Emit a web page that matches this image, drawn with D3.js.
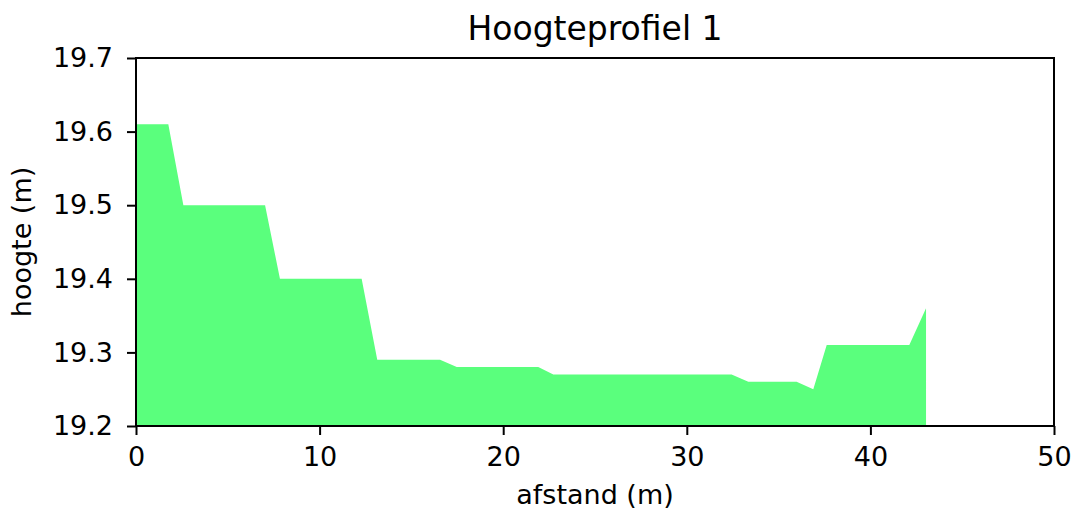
<!DOCTYPE html>
<html>
<head>
<meta charset="utf-8">
<script src="https://cdn.jsdelivr.net/npm/d3@7"></script>
<style>
  html, body { margin: 0; padding: 0; background: #fff; }
  svg { display: block; font-family: "DejaVu Sans", sans-serif; }
</style>
</head>
<body>
<svg id="chart" width="1072" height="515"></svg>
<script>
// Data: vertices of the height profile (distance in m, height in m)
const distance = [0, 1.76, 2.58, 7.03, 7.84, 12.29, 13.14, 16.56, 17.47, 21.91, 22.73, 32.44, 33.35, 35.98, 36.89, 37.62, 42.12, 43.03];
const height   = [19.61, 19.61, 19.50, 19.50, 19.40, 19.40, 19.29, 19.29, 19.28, 19.28, 19.27, 19.27, 19.26, 19.26, 19.25, 19.31, 19.31, 19.36];
const xTicks = [0, 10, 20, 30, 40, 50];
const yTicks = [19.2, 19.3, 19.4, 19.5, 19.6, 19.7];
const title = "Hoogteprofiel 1";
const xLabel = "afstand (m)";
const yLabel = "hoogte (m)";

const svg = d3.select("#chart");
const plotLeft = 136, plotRight = 1054, plotTop = 58, plotBottom = 426;

const x = d3.scaleLinear().domain([0, 50]).range([plotLeft, plotRight]);
const y = d3.scaleLinear().domain([19.2, 19.7]).range([plotBottom, plotTop]);

const pts = distance.map((d, i) => ({ d, h: height[i] }));

svg.append("path")
  .datum(pts)
  .attr("fill", "#5AFF7D")
  .attr("d", d3.area().x(p => x(p.d)).y0(y(19.2)).y1(p => y(p.h)));

// frame
svg.append("rect")
  .attr("x", plotLeft).attr("y", plotTop)
  .attr("width", plotRight - plotLeft).attr("height", plotBottom - plotTop)
  .attr("fill", "none").attr("stroke", "#000").attr("stroke-width", 2);

const xAxis = svg.append("g")
  .attr("transform", `translate(0,${plotBottom})`)
  .call(d3.axisBottom(x).tickValues(xTicks).tickFormat(d3.format("d")).tickSize(9).tickPadding(12));
const yAxis = svg.append("g")
  .attr("transform", `translate(${plotLeft},0)`)
  .call(d3.axisLeft(y).tickValues(yTicks).tickFormat(d3.format(".1f")).tickSize(9).tickPadding(14));

[xAxis, yAxis].forEach(g => {
  g.select(".domain").remove();
  g.selectAll(".tick line").attr("stroke", "#000").attr("stroke-width", 2);
  g.selectAll(".tick text").attr("fill", "#000").style("font-size", "27px").style("font-family", "DejaVu Sans");
});

svg.append("text")
  .attr("x", (plotLeft + plotRight) / 2).attr("y", 40)
  .attr("text-anchor", "middle")
  .style("font-size", "33px")
  .attr("fill", "#000")
  .text(title);

svg.append("text")
  .attr("x", (plotLeft + plotRight) / 2).attr("y", 504)
  .attr("text-anchor", "middle")
  .style("font-size", "27px")
  .attr("fill", "#000")
  .text(xLabel);

svg.append("text")
  .attr("transform", `translate(31,${(plotTop + plotBottom) / 2}) rotate(-90)`)
  .attr("text-anchor", "middle")
  .style("font-size", "27px")
  .attr("fill", "#000")
  .text(yLabel);
</script>
</body>
</html>
